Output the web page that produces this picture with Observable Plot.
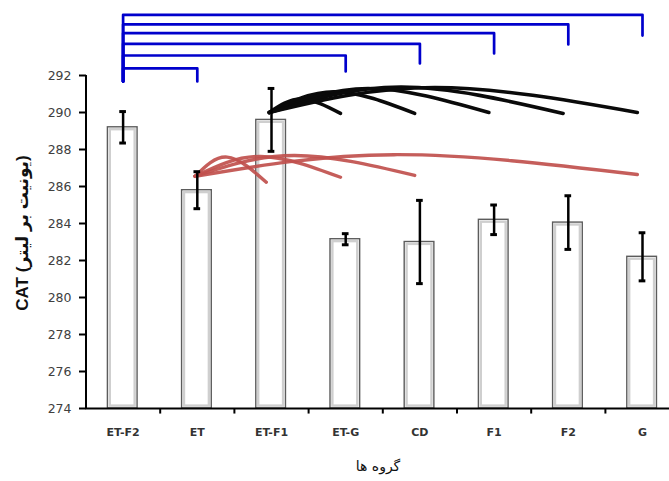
<!DOCTYPE html>
<html>
<head>
<meta charset="utf-8">
<script src="https://cdn.jsdelivr.net/npm/d3@7"></script>
<script src="https://cdn.jsdelivr.net/npm/@observablehq/plot@0.6"></script>
<style>
  html, body { margin: 0; padding: 0; background: #fff; overflow: hidden; }
</style>
</head>
<body>
<div id="chart"></div>
<script>
// ---- data ----
const categories = ["ET-F2", "ET", "ET-F1", "ET-G", "CD", "F1", "F2", "G"];
const values = [289.2, 285.8, 289.6, 283.15, 283.0, 284.2, 284.05, 282.2];
const errors = [0.85, 1.0, 1.7, 0.3, 2.25, 0.8, 1.45, 1.3];
const yTicks = [274, 276, 278, 280, 282, 284, 286, 288, 290, 292];
const yLabel = "CAT (یونیت بر لیتر)";
const xLabel = "گروه ها";

// blue significance brackets, all from ET-F2 (levels in y units)
const bracketFrom = "ET-F2";
const bracketTo = ["ET", "ET-G", "CD", "F1", "F2", "G"];
const bracketLevel = [292.39, 293.08, 293.71, 294.29, 294.76, 295.28];
const bracketEnd = [291.68, 292.22, 292.65, 293.19, 293.68, 294.16];
const bracketBase = 291.68;

// black arcs from ET-F1
const blackFrom = "ET-F1";
const blackStart = 290.0;
const blackTo = ["ET-G", "CD", "F1", "F2", "G"];
const blackEnd = [289.95, 289.95, 290.0, 289.95, 290.0];
const blackRise = [0.75, 1.15, 1.3, 1.4, 1.35];

// red arcs from ET
const redFrom = "ET";
const redStart = 286.55;
const redTo = ["ET-F1", "ET-G", "CD", "G"];
const redEnd = [286.23, 286.5, 286.6, 286.65];
const redRise = [1.2, 1.1, 1.1, 1.12];

// ---- derived tables ----
const idx = name => categories.indexOf(name);
const bars = categories.map((c, i) => ({i, c, v: values[i], e: errors[i]}));

const brackets = bracketTo.flatMap((t, k) => {
  const x0 = idx(bracketFrom), x1 = idx(t);
  return [
    {id: k, x: x0, y: bracketBase},
    {id: k, x: x0, y: bracketLevel[k]},
    {id: k, x: x1, y: bracketLevel[k]},
    {id: k, x: x1, y: bracketEnd[k]}
  ];
});

function arcs(from, y0, tos, ends, rises, tag) {
  return tos.flatMap((t, k) => {
    const x0 = idx(from) - 0.03, x1 = idx(t) - 0.07;
    const y1 = ends[k];
    return [
      {id: tag + k, x: x0, y: y0},
      {id: tag + k, x: x0 + 0.45 * (x1 - x0), y: (y0 + y1) / 2 + rises[k]},
      {id: tag + k, x: x1, y: y1}
    ];
  });
}
const blackArcs = arcs(blackFrom, blackStart, blackTo, blackEnd, blackRise, "b");
const redArcs = arcs(redFrom, redStart, redTo, redEnd, redRise, "r");

const chart = Plot.plot({
  width: 669,
  height: 481,
  marginLeft: 86,
  marginRight: 0,
  marginTop: 75,
  marginBottom: 73,
  x: {type: "linear", domain: [-0.5, 7.5], range: [85.5, 679.1], axis: null},
  y: {domain: [274, 292], axis: null},
  style: {background: "#fff", overflow: "hidden", fontFamily: "'DejaVu Sans', sans-serif"},
  marks: [
    // bars: outer outline + inner light border
    Plot.rect(bars, {x1: d => d.i - 0.205, x2: d => d.i + 0.195, y1: 274, y2: "v",
      fill: "#fff", stroke: "#5c5c5c", strokeWidth: 1.4}),
    Plot.rect(bars, {x1: d => d.i - 0.205, x2: d => d.i + 0.195, y1: 274, y2: "v",
      fill: "none", stroke: "#cfcfcf", strokeWidth: 2.4, inset: 2.4}),
    // axes lines
    Plot.ruleX([-0.5], {y1: 274, y2: 292, stroke: "#000", strokeWidth: 2}),
    Plot.ruleY([274], {x1: -0.5, x2: 7.5, stroke: "#000", strokeWidth: 2}),
    // x boundary ticks
    Plot.ruleX(categories.slice(1), {x: d => idx(d) - 0.5, y1: 274, y2: 273.7, stroke: "#000", strokeWidth: 2}),
    // y ticks + labels
    Plot.axisY(yTicks, {anchor: "left", tickSize: 7, tickPadding: 8, strokeWidth: 2, stroke: "#000",
      fill: "#404040", fontSize: 12.5, label: null}),
    // x category labels
    Plot.axisX(categories.map((c, i) => i), {anchor: "bottom", tickSize: 0, tickPadding: 20,
      tickFormat: i => categories[i], fontSize: 11, fontWeight: "bold", fill: "#333", label: null}),
    // blue brackets
    Plot.line(brackets, {x: "x", y: "y", z: "id", stroke: "#0000cc", strokeWidth: 2.7}),
    // red arcs
    Plot.line(redArcs, {x: "x", y: "y", z: "id", curve: "natural", stroke: "#c0504d",
      strokeOpacity: 0.92, strokeWidth: 3.4, strokeLinecap: "round"}),
    // black arcs
    Plot.line(blackArcs, {x: "x", y: "y", z: "id", curve: "natural", stroke: "#0a0a0a",
      strokeWidth: 3.6, strokeLinecap: "round"}),
    // error bars
    Plot.ruleX(bars, {x: "i", y1: d => d.v - d.e, y2: d => d.v + d.e, stroke: "#000", strokeWidth: 2.5}),
    Plot.ruleY(bars, {y: d => d.v + d.e, x1: d => d.i - 0.045, x2: d => d.i + 0.045, stroke: "#000", strokeWidth: 3}),
    Plot.ruleY(bars, {y: d => d.v - d.e, x1: d => d.i - 0.045, x2: d => d.i + 0.045, stroke: "#000", strokeWidth: 3}),
    // axis titles
    Plot.text([yLabel], {text: d => d, frameAnchor: "left", textAnchor: "middle", dx: -64, dy: -9, rotate: -90,
      fontSize: 17, fontWeight: "bold", fill: "#111", fontFamily: "'Liberation Sans', 'DejaVu Sans', sans-serif"}),
    Plot.text([xLabel], {text: d => d, frameAnchor: "bottom", dy: 62, fontSize: 14, fill: "#111"})
  ]
});
document.getElementById("chart").appendChild(chart);
</script>
</body>
</html>
